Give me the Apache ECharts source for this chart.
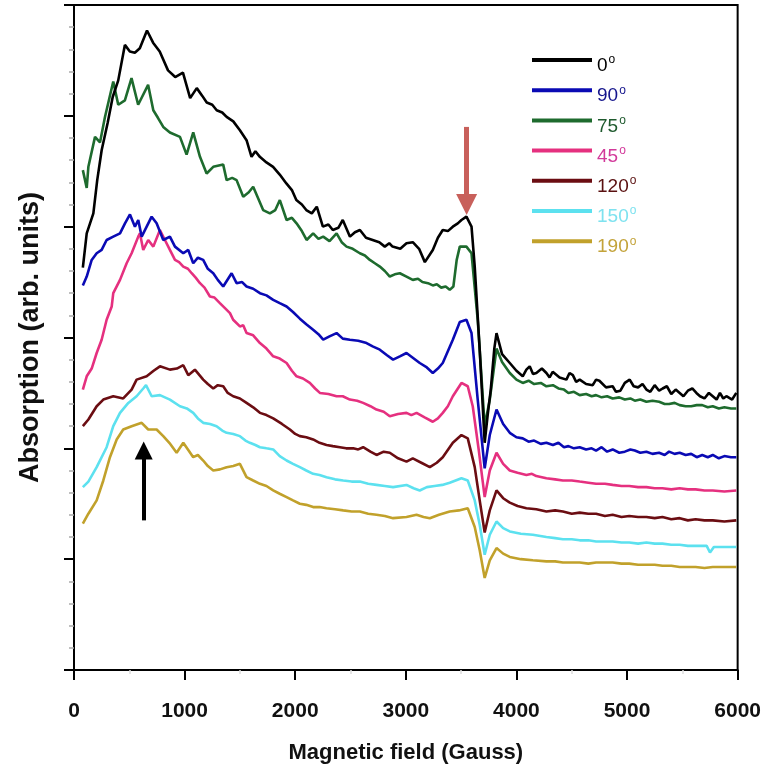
<!DOCTYPE html>
<html>
<head>
<meta charset="utf-8">
<script src="https://cdn.jsdelivr.net/npm/echarts@6/dist/echarts.min.js"></script>
<style>
  html, body { margin: 0; padding: 0; background: #fff; }
  #chart { width: 764px; height: 778px; }
</style>
</head>
<body>
<div id="chart"></div>
<script>
const FONT = '"Liberation Sans", Arial, sans-serif';

// angles shown in the legend, in legend order
const angles = ['0', '90', '75', '45', '120', '150', '190'];
const lineColors = ['#000000', '#0a0ab4', '#1e6b2e', '#e5307f', '#6b0d12', '#5ce1ef', '#c1a12b'];
const labelColors = ['#000000', '#14148c', '#1f5a2e', '#d2399a', '#5a1010', '#7ee2ef', '#c3a33a'];

const xTicks = [0, 1000, 2000, 3000, 4000, 5000, 6000];

// [field (G), absorption (arb.)]
const deg0 = [[80,3.63],[115,3.94],[175,4.12],[210,4.42],[250,4.69],[305,4.94],[350,5.17],[400,5.32],[460,5.64],[505,5.58],[550,5.57],[595,5.61],[660,5.77],[715,5.66],[775,5.58],[850,5.41],[915,5.35],[985,5.39],[1050,5.16],[1110,5.25],[1160,5.18],[1200,5.12],[1250,5.10],[1290,5.05],[1340,5.03],[1380,4.99],[1440,4.95],[1500,4.87],[1560,4.78],[1605,4.63],[1640,4.68],[1680,4.63],[1740,4.58],[1800,4.54],[1860,4.47],[1920,4.39],[1970,4.33],[2010,4.24],[2060,4.20],[2100,4.15],[2150,4.12],[2195,4.18],[2250,4.00],[2300,4.02],[2340,3.97],[2390,3.99],[2430,4.06],[2495,3.91],[2540,3.95],[2585,3.97],[2640,3.90],[2700,3.88],[2760,3.86],[2810,3.82],[2850,3.85],[2880,3.82],[2950,3.80],[3006,3.85],[3063,3.86],[3120,3.80],[3172,3.68],[3244,3.79],[3290,3.90],[3334,3.97],[3380,3.96],[3425,4.00],[3470,4.03],[3503,4.06],[3548,4.09],[3594,4.00],[3623,3.64],[3668,2.89],[3713,2.05],[3740,2.30],[3768,2.53],[3800,2.90],[3820,3.04],[3870,2.85],[3940,2.77],[4000,2.70],[4057,2.65],[4090,2.71],[4120,2.74],[4150,2.67],[4180,2.68],[4230,2.72],[4271,2.68],[4300,2.64],[4328,2.69],[4390,2.64],[4452,2.62],[4480,2.68],[4510,2.66],[4540,2.60],[4572,2.62],[4630,2.58],[4690,2.57],[4720,2.62],[4750,2.61],[4810,2.55],[4870,2.56],[4900,2.51],[4940,2.52],[4980,2.59],[5024,2.62],[5060,2.56],[5100,2.55],[5140,2.58],[5175,2.53],[5210,2.51],[5250,2.57],[5290,2.52],[5322,2.54],[5360,2.56],[5400,2.49],[5440,2.53],[5476,2.50],[5510,2.47],[5550,2.52],[5590,2.54],[5627,2.50],[5660,2.47],[5700,2.45],[5740,2.50],[5775,2.47],[5810,2.44],[5840,2.50],[5870,2.45],[5898,2.47],[5950,2.44],[5988,2.50]];
const deg90 = [[80,3.47],[115,3.55],[160,3.70],[205,3.76],[250,3.79],[295,3.88],[355,3.91],[416,3.94],[461,4.03],[506,4.11],[551,4.00],[581,4.06],[612,3.91],[657,4.00],[702,4.09],[747,4.03],[807,3.88],[867,3.91],[913,3.82],[988,3.76],[1033,3.79],[1078,3.67],[1120,3.72],[1168,3.70],[1210,3.62],[1259,3.58],[1300,3.52],[1349,3.46],[1425,3.58],[1470,3.49],[1520,3.50],[1560,3.46],[1620,3.44],[1681,3.40],[1740,3.38],[1801,3.34],[1860,3.31],[1922,3.28],[1980,3.23],[2042,3.17],[2100,3.12],[2162,3.07],[2210,3.03],[2253,2.98],[2310,3.01],[2374,3.04],[2430,2.99],[2494,2.98],[2570,2.97],[2645,2.95],[2700,2.92],[2765,2.89],[2830,2.84],[2885,2.80],[2946,2.83],[3006,2.86],[3060,2.82],[3126,2.77],[3190,2.73],[3244,2.68],[3290,2.72],[3334,2.77],[3425,2.98],[3488,3.14],[3548,3.16],[3594,3.04],[3650,2.44],[3713,1.82],[3759,2.12],[3820,2.35],[3880,2.22],[3940,2.14],[4000,2.10],[4057,2.09],[4110,2.06],[4160,2.07],[4220,2.04],[4271,2.05],[4330,2.03],[4380,2.05],[4430,2.01],[4470,2.02],[4520,2.00],[4572,2.01],[4630,1.99],[4680,2.00],[4720,1.98],[4770,2.01],[4820,1.97],[4870,1.99],[4930,1.96],[4980,1.97],[5030,1.99],[5070,1.98],[5120,1.96],[5175,1.97],[5230,1.95],[5290,1.96],[5340,1.94],[5380,1.97],[5430,1.95],[5476,1.96],[5530,1.94],[5580,1.95],[5630,1.92],[5680,1.94],[5730,1.92],[5775,1.94],[5830,1.91],[5880,1.93],[5940,1.92],[5988,1.92]];
const deg75 = [[80,4.51],[115,4.35],[130,4.54],[190,4.81],[235,4.76],[280,4.99],[355,5.31],[400,5.10],[460,5.14],[520,5.34],[580,5.10],[670,5.28],[717,5.05],[760,4.98],[807,4.90],[867,4.85],[958,4.81],[1018,4.65],[1078,4.85],[1139,4.63],[1199,4.48],[1259,4.54],[1349,4.56],[1380,4.42],[1430,4.44],[1470,4.42],[1530,4.27],[1580,4.31],[1620,4.36],[1710,4.15],[1771,4.12],[1820,4.15],[1861,4.24],[1922,4.06],[1970,4.08],[2012,4.03],[2060,3.96],[2103,3.88],[2162,3.94],[2210,3.89],[2253,3.91],[2310,3.87],[2374,3.94],[2420,3.86],[2464,3.82],[2520,3.80],[2584,3.76],[2630,3.74],[2675,3.70],[2720,3.67],[2765,3.64],[2810,3.60],[2855,3.55],[2900,3.57],[2946,3.58],[3006,3.55],[3063,3.52],[3110,3.53],[3150,3.50],[3200,3.49],[3244,3.47],[3280,3.48],[3320,3.45],[3360,3.46],[3397,3.43],[3430,3.46],[3460,3.70],[3488,3.82],[3548,3.82],[3594,3.76],[3650,3.16],[3713,2.20],[3759,2.44],[3820,2.90],[3870,2.78],[3940,2.68],[4000,2.62],[4057,2.59],[4110,2.61],[4160,2.58],[4220,2.59],[4271,2.56],[4330,2.57],[4380,2.54],[4430,2.53],[4470,2.50],[4520,2.51],[4572,2.48],[4630,2.49],[4680,2.47],[4720,2.48],[4770,2.46],[4820,2.47],[4870,2.45],[4930,2.46],[4980,2.44],[5030,2.45],[5070,2.43],[5120,2.44],[5175,2.42],[5230,2.43],[5290,2.42],[5340,2.40],[5380,2.40],[5430,2.41],[5476,2.39],[5530,2.38],[5580,2.38],[5630,2.39],[5680,2.39],[5730,2.37],[5775,2.38],[5830,2.36],[5880,2.37],[5940,2.36],[5988,2.36]];
const deg45 = [[80,2.53],[115,2.65],[160,2.72],[205,2.86],[250,2.98],[295,3.16],[341,3.28],[355,3.40],[416,3.52],[476,3.67],[521,3.76],[581,3.91],[596,3.94],[626,3.79],[671,3.88],[717,3.82],[777,3.97],[822,3.88],[867,3.79],[913,3.70],[950,3.68],[988,3.64],[1030,3.62],[1064,3.58],[1100,3.54],[1139,3.49],[1180,3.45],[1229,3.37],[1270,3.36],[1319,3.31],[1360,3.27],[1410,3.22],[1439,3.16],[1500,3.10],[1530,3.11],[1560,3.04],[1620,3.02],[1681,2.95],[1740,2.90],[1801,2.83],[1860,2.81],[1922,2.77],[1970,2.70],[2012,2.65],[2070,2.63],[2132,2.59],[2180,2.54],[2223,2.50],[2300,2.49],[2374,2.47],[2430,2.47],[2494,2.44],[2560,2.43],[2614,2.41],[2680,2.38],[2735,2.35],[2800,2.33],[2855,2.29],[2930,2.31],[3006,2.32],[3050,2.30],[3097,2.32],[3170,2.28],[3244,2.24],[3290,2.27],[3334,2.32],[3380,2.38],[3425,2.47],[3503,2.59],[3560,2.56],[3605,2.38],[3660,1.98],[3713,1.56],[3759,1.80],[3820,1.96],[3880,1.86],[3940,1.80],[4010,1.78],[4090,1.76],[4140,1.77],[4180,1.75],[4230,1.74],[4271,1.73],[4350,1.72],[4420,1.71],[4500,1.71],[4572,1.70],[4650,1.69],[4720,1.68],[4800,1.68],[4870,1.67],[4950,1.66],[5020,1.66],[5100,1.65],[5175,1.65],[5250,1.64],[5320,1.64],[5400,1.63],[5476,1.64],[5550,1.63],[5620,1.63],[5700,1.62],[5775,1.62],[5880,1.61],[5988,1.62]];
const deg120 = [[80,2.20],[130,2.26],[205,2.38],[265,2.44],[355,2.47],[445,2.45],[521,2.53],[566,2.62],[657,2.65],[720,2.70],[777,2.74],[867,2.71],[930,2.72],[988,2.75],[1033,2.66],[1093,2.71],[1168,2.62],[1210,2.58],[1259,2.54],[1300,2.57],[1349,2.56],[1390,2.50],[1439,2.47],[1500,2.45],[1560,2.41],[1620,2.37],[1681,2.32],[1740,2.30],[1801,2.27],[1880,2.22],[1952,2.17],[2000,2.13],[2042,2.11],[2100,2.10],[2162,2.08],[2220,2.05],[2283,2.03],[2340,2.02],[2404,2.01],[2460,2.00],[2524,2.00],[2570,1.99],[2614,2.01],[2680,1.97],[2735,1.94],[2800,1.97],[2855,1.96],[2930,1.91],[3006,1.88],[3063,1.91],[3140,1.87],[3217,1.83],[3280,1.87],[3334,1.92],[3425,2.05],[3503,2.12],[3560,2.09],[3623,1.83],[3668,1.53],[3713,1.24],[3759,1.44],[3820,1.62],[3880,1.55],[3940,1.51],[4010,1.48],[4090,1.46],[4180,1.45],[4271,1.43],[4350,1.44],[4420,1.43],[4500,1.41],[4572,1.42],[4650,1.41],[4720,1.41],[4800,1.39],[4870,1.40],[4950,1.38],[5020,1.39],[5100,1.38],[5175,1.38],[5250,1.37],[5320,1.38],[5400,1.36],[5476,1.37],[5550,1.35],[5620,1.36],[5700,1.35],[5775,1.35],[5880,1.34],[5988,1.35]];
const deg150 = [[80,1.65],[130,1.70],[205,1.83],[295,2.01],[355,2.20],[416,2.32],[491,2.41],[566,2.47],[626,2.54],[651,2.57],[702,2.47],[777,2.48],[867,2.44],[958,2.38],[1020,2.36],[1078,2.32],[1120,2.27],[1168,2.23],[1230,2.22],[1289,2.20],[1340,2.16],[1380,2.14],[1440,2.13],[1500,2.11],[1550,2.07],[1590,2.05],[1640,2.03],[1681,2.01],[1740,2.00],[1801,1.99],[1860,1.93],[1922,1.89],[1980,1.86],[2042,1.83],[2100,1.80],[2162,1.77],[2220,1.76],[2283,1.74],[2360,1.72],[2434,1.71],[2510,1.70],[2584,1.70],[2660,1.68],[2735,1.67],[2810,1.66],[2885,1.65],[3006,1.67],[3070,1.64],[3126,1.62],[3190,1.65],[3260,1.66],[3330,1.67],[3397,1.69],[3503,1.73],[3560,1.71],[3623,1.53],[3668,1.31],[3713,1.04],[3759,1.22],[3820,1.34],[3880,1.28],[3940,1.25],[4040,1.23],[4148,1.22],[4271,1.20],[4350,1.19],[4420,1.18],[4500,1.18],[4572,1.17],[4650,1.17],[4720,1.16],[4800,1.16],[4870,1.16],[4950,1.15],[5020,1.15],[5100,1.14],[5175,1.15],[5250,1.14],[5320,1.14],[5400,1.13],[5476,1.13],[5550,1.12],[5620,1.12],[5720,1.12],[5750,1.06],[5785,1.11],[5880,1.11],[5988,1.11]];
const deg190 = [[80,1.32],[130,1.41],[205,1.53],[265,1.71],[325,1.92],[386,2.08],[445,2.17],[521,2.20],[612,2.23],[671,2.17],[747,2.17],[807,2.11],[870,2.04],[928,1.96],[988,2.05],[1030,1.99],[1078,1.92],[1120,1.94],[1168,1.89],[1210,1.84],[1259,1.80],[1320,1.81],[1380,1.83],[1440,1.84],[1500,1.86],[1560,1.74],[1620,1.71],[1681,1.68],[1740,1.66],[1801,1.62],[1860,1.59],[1922,1.56],[1980,1.53],[2042,1.50],[2100,1.49],[2162,1.47],[2220,1.47],[2283,1.46],[2360,1.45],[2434,1.44],[2510,1.43],[2584,1.43],[2660,1.41],[2735,1.40],[2810,1.39],[2885,1.37],[3006,1.38],[3097,1.40],[3160,1.38],[3217,1.37],[3300,1.40],[3397,1.43],[3480,1.44],[3560,1.46],[3623,1.29],[3668,1.08],[3713,0.83],[3759,0.99],[3820,1.10],[3880,1.05],[3940,1.02],[4040,1.00],[4148,0.99],[4271,0.98],[4350,0.98],[4420,0.97],[4500,0.97],[4572,0.97],[4650,0.96],[4720,0.97],[4800,0.97],[4870,0.97],[4950,0.96],[5020,0.96],[5100,0.95],[5175,0.95],[5250,0.95],[5320,0.94],[5400,0.94],[5476,0.93],[5550,0.93],[5620,0.93],[5700,0.92],[5775,0.93],[5880,0.93],[5988,0.93]];

const curves = [deg0, deg90, deg75, deg45, deg120, deg150, deg190];

// arrows: [field, tail, tip]
const redArrow = [3550, 4.90, 4.20];
const blackArrow = [630, 1.35, 1.98];

const chart = echarts.init(document.getElementById('chart'));

const series = angles.map((a, i) => ({
    name: a,
    type: 'line',
    data: curves[i],
    showSymbol: false,
    symbol: 'none',
    lineStyle: { color: lineColors[i], width: 2.6 },
    itemStyle: { color: lineColors[i] },
    z: 10 - i
}));

const arrowSeries = (arr, color, width, head) => ({
    name: 'arrow',
    type: 'line',
    data: [],
    markLine: {
        silent: true,
        animation: false,
        symbol: ['none', 'triangle'],
        symbolSize: head,
        label: { show: false },
        lineStyle: { color: color, width: width, type: 'solid' },
        data: [[{ coord: [arr[0], arr[1]] }, { coord: [arr[0], arr[2]] }]]
    }
});

series.push(arrowSeries(redArrow, '#c8605b', 5, 21));
series.push(arrowSeries(blackArrow, '#000000', 4, 18));

const option = {
    animation: false,
    grid: {
        left: 74, right: 26, top: 5, bottom: 108,
        show: true, borderColor: '#000', borderWidth: 2
    },
    legend: {
        orient: 'vertical',
        left: 532,
        top: 54,
        padding: 0,
        itemWidth: 60,
        itemHeight: 4,
        itemGap: 8.7,
        icon: 'rect',
        selectedMode: false,
        data: angles.map((a, i) => ({ name: a, textStyle: { color: labelColors[i] } })),
        formatter: name => `{n|${name}}{s|o}`,
        textStyle: {
            fontFamily: FONT,
            rich: {
                n: { fontFamily: FONT, fontSize: 19, padding: [12, 0, 0, 0] },
                s: { fontFamily: FONT, fontSize: 12, padding: [0, 0, 0, 1] }
            }
        }
    },
    xAxis: {
        type: 'value',
        min: xTicks[0],
        max: xTicks[xTicks.length - 1],
        interval: 1000,
        name: 'Magnetic field (Gauss)',
        nameLocation: 'middle',
        nameGap: 72,
        nameTextStyle: { fontFamily: FONT, fontSize: 22, fontWeight: 'bold', color: '#111' },
        axisLine: { lineStyle: { color: '#000', width: 2 } },
        axisTick: { length: 10, lineStyle: { color: '#000', width: 2 } },
        minorTick: { show: true, splitNumber: 2, length: 4, lineStyle: { color: '#ddd', width: 1.5 } },
        axisLabel: {
            fontFamily: FONT, fontSize: 21, fontWeight: 'bold', color: '#111', margin: 31,
            formatter: v => String(v)
        },
        splitLine: { show: false }
    },
    yAxis: {
        type: 'value',
        min: 0,
        max: 6,
        interval: 1,
        name: 'Absorption (arb. units)',
        nameLocation: 'middle',
        nameGap: 30,
        nameTextStyle: { fontFamily: FONT, fontSize: 27, fontWeight: 'bold', color: '#111' },
        axisLine: { lineStyle: { color: '#000', width: 2 } },
        axisTick: { length: 10, lineStyle: { color: '#000', width: 2 } },
        minorTick: { show: true, splitNumber: 5, length: 5, lineStyle: { color: '#aaa', width: 1.5 } },
        axisLabel: { show: false },
        splitLine: { show: false }
    },
    series
};

chart.setOption(option);
</script>
</body>
</html>
